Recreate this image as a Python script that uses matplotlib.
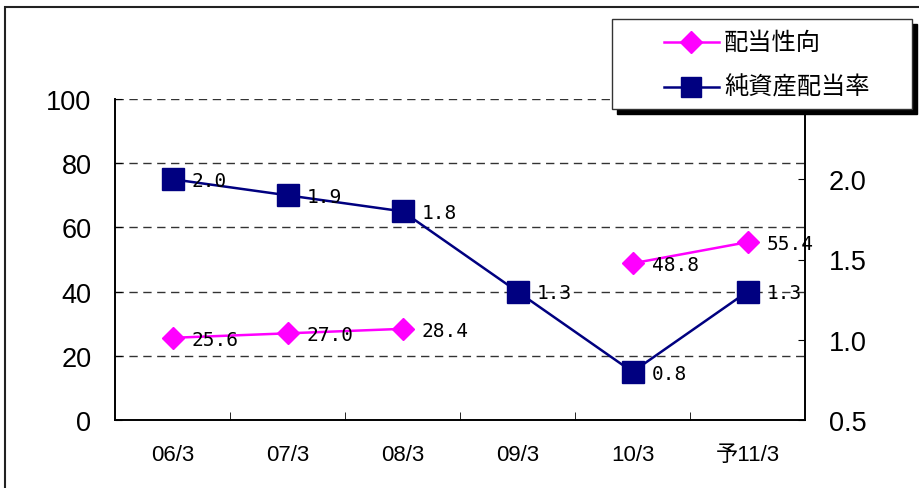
import numpy as np
import matplotlib
matplotlib.use('Agg')
import matplotlib.pyplot as plt
from matplotlib.patches import Rectangle
from matplotlib.lines import Line2D

# データ
categories = ['06/3', '07/3', '08/3', '09/3', '10/3', '予11/3']
payout = [25.6, 27.0, 28.4, np.nan, 48.8, 55.4]  # 配当性向(%)
doe = [2.0, 1.9, 1.8, 1.3, 0.8, 1.3]  # 純資産配当率(%)
left_ticks = [0, 20, 40, 60, 80, 100]
right_ticks = [0.5, 1.0, 1.5, 2.0]

latin = ['Liberation Sans', 'Noto Sans CJK JP']
jp = ['Noto Sans CJK JP', 'DejaVu Sans']
mono = ['DejaVu Sans Mono']
PINK = '#FF00FF'
NAVY = '#000080'

fig = plt.figure(figsize=(9.19, 4.89), dpi=100)
W, H = 919, 489

# 外枠
fig.patches.append(Rectangle((5 / W, -0.1), 1.2, (489 - 8) / H + 0.1, transform=fig.transFigure,
                             fill=False, edgecolor='#222222', linewidth=1.5))

ax = fig.add_axes([115 / W, (H - 421) / H, 690 / W, 321 / H])
ax2 = ax.twinx()

x = np.arange(len(categories))
ax.set_xlim(-0.5, 5.5)
ax.set_ylim(0, 100)
ax2.set_ylim(0.5, 2.5)

ax.set_yticks(left_ticks)
ax.set_yticklabels([str(v) for v in left_ticks], family=latin, fontsize=19.5)
ax2.set_yticks(right_ticks)
ax2.set_yticklabels(['%.1f' % v for v in right_ticks], family=latin, fontsize=19.5)
ax.tick_params(axis='y', direction='in', length=5, pad=17)
ax2.tick_params(axis='y', direction='in', length=5, pad=17)

ax.set_xticks(x)
ax.set_xticklabels(categories, family=latin, fontsize=16)
ax.set_xticks(np.arange(0.5, 5.5, 1), minor=True)
ax.tick_params(axis='x', which='major', length=0, pad=17)
ax.tick_params(axis='x', which='minor', direction='in', length=6)

for v in left_ticks[1:]:
    ax.axhline(v, color='#333333', linestyle=(0, (6, 4)), linewidth=1.0, zorder=1)

for a in (ax, ax2):
    a.spines['top'].set_visible(False)
    for s in ('left', 'right', 'bottom'):
        a.spines[s].set_linewidth(1.2)

ax.plot(x, payout, color=PINK, linewidth=1.8, marker='D', markersize=11,
        markerfacecolor=PINK, markeredgecolor=PINK, zorder=3)
ax2.plot(x, doe, color=NAVY, linewidth=1.8, marker='s', markersize=16,
         markerfacecolor=NAVY, markeredgecolor=NAVY, zorder=3)

for i, v in enumerate(payout):
    if not np.isnan(v):
        ax.annotate('%.1f' % v, (x[i], v), xytext=(14, -1), textcoords='offset points',
                    va='center', ha='left', family=mono, fontsize=14, zorder=4)
for i, v in enumerate(doe):
    ax2.annotate('%.1f' % v, (x[i], v), xytext=(14, -1), textcoords='offset points',
                 va='center', ha='left', family=mono, fontsize=14, zorder=4)

# 凡例（影付き）
lx0, ly0, lx1, ly1 = 612, 20, 912, 110
fig.patches.append(Rectangle(((lx0 + 5) / W, (H - ly1 - 5) / H), (lx1 - lx0) / W, (ly1 - ly0) / H,
                             transform=fig.transFigure, facecolor='black', edgecolor='black', zorder=10))
fig.patches.append(Rectangle((lx0 / W, (H - ly1) / H), (lx1 - lx0) / W, (ly1 - ly0) / H,
                             transform=fig.transFigure, facecolor='white', edgecolor='#333333',
                             linewidth=1, zorder=11))
for yy, col, mk, ms, label in [(43, PINK, 'D', 11, '配当性向'), (88, NAVY, 's', 14, '純資産配当率')]:
    fig.lines.append(Line2D([664 / W, 719 / W], [(H - yy) / H] * 2, transform=fig.transFigure,
                            color=col, linewidth=1.8, zorder=12))
    fig.lines.append(Line2D([691 / W], [(H - yy) / H], transform=fig.transFigure, marker=mk,
                            markersize=ms, color=col, zorder=13))
    fig.text(724 / W, (H - yy) / H, label, family=jp, fontsize=17.5, va='center', ha='left', zorder=14)

plt.savefig('out.png', dpi=100)
